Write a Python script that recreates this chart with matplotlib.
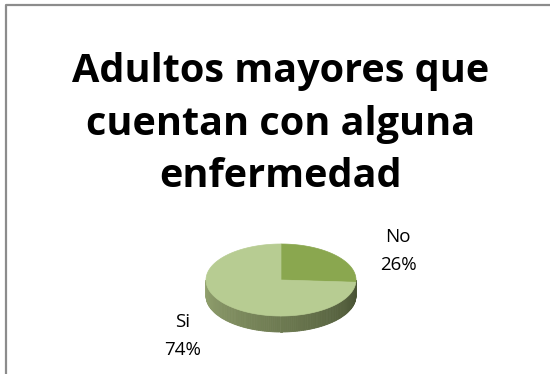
import numpy as np
import matplotlib.pyplot as plt
from matplotlib.patches import Polygon

# data
labels = ["No", "Si"]
values = [26, 74]
colors = ["#8aa74f", "#b7cc92"]
title = "Adultos mayores que\ncuentan con alguna\nenfermedad"

W, H = 550, 374
fig = plt.figure(figsize=(W / 100, H / 100), dpi=100)
ax = fig.add_axes([0, 0, 1, 1])
ax.set_xlim(0, W)
ax.set_ylim(H, 0)
ax.axis("off")

# frame (only left and top visible)
ax.plot([5.5, 5.5, W], [H, 4.5, 4.5], color="#8c8c8c", lw=1.6, solid_capstyle="butt")

ax.text(281, 124, title, ha="center", va="center", fontsize=28.5,
        fontweight="bold", family="Open Sans", linespacing=1.45)

# 3d-ish pie geometry
cx, cy = 281, 280
a, b = 75, 36
depth = 16


def pt(t):
    return cx + a * np.cos(t), cy - b * np.sin(t)


# side band (front half), shaded from light left to dark right
ts = np.linspace(np.pi, 2 * np.pi, 120)
side_light = np.array([0.58, 0.64, 0.44])
side_dark = np.array([0.28, 0.32, 0.20])
for i in range(len(ts) - 1):
    t0, t1 = ts[i], ts[i + 1]
    x0, y0 = pt(t0)
    x1, y1 = pt(t1)
    f = i / (len(ts) - 2)
    c = side_light * (1 - f) + side_dark * f
    ax.add_patch(Polygon([(x0, y0), (x1, y1), (x1, y1 + depth), (x0, y0 + depth)],
                         closed=True, facecolor=c, edgecolor=c, lw=0.6))

# top faces, clockwise from 12 o'clock
start = np.pi / 2
total = sum(values)
for v, col in zip(values, colors):
    sweep = 2 * np.pi * v / total
    tt = np.linspace(start, start - sweep, 200)
    xs, ys = pt(tt)
    poly = [(cx, cy)] + list(zip(xs, ys))
    ax.add_patch(Polygon(poly, closed=True, facecolor=col, edgecolor=col, lw=0.5))
    start -= sweep

# labels
lab_pos = [(398, 251), (183, 336)]
for lab, v, (lx, ly) in zip(labels, values, lab_pos):
    ax.text(lx, ly, f"{lab}\n{v}%", ha="center", va="center", fontsize=13.5,
            family="Open Sans", linespacing=1.7)

fig.savefig("out.png", dpi=100)
